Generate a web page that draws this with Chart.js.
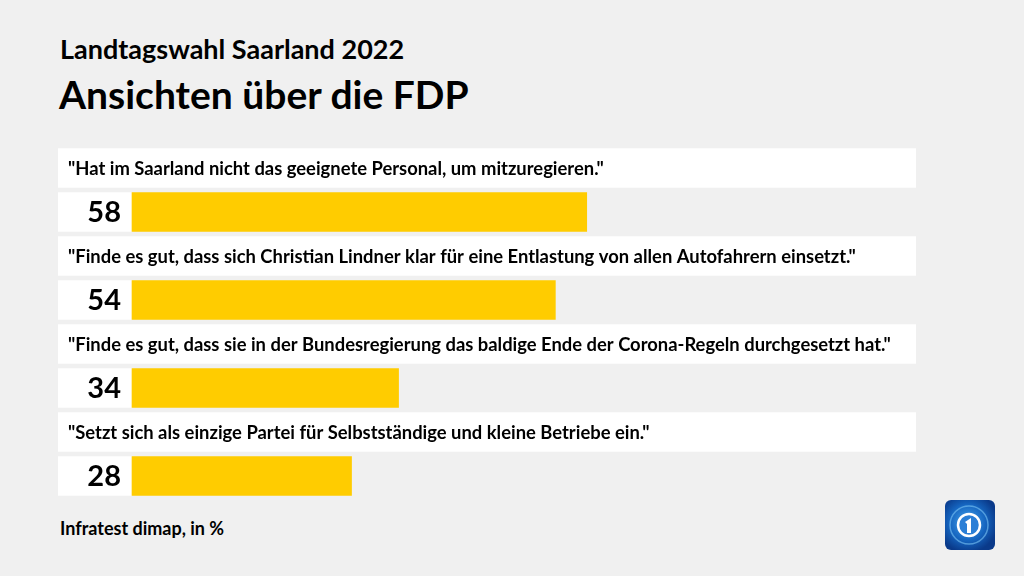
<!DOCTYPE html>
<html>
<head>
<meta charset="utf-8">
<script src="https://cdn.jsdelivr.net/npm/chart.js@4"></script>
<style>
  body { margin: 0; width: 1024px; height: 576px; background: #f0f0f0; font-family: Lato, "Noto Sans", sans-serif; color: #000; overflow: hidden; position: relative; }
  .sup { position: absolute; left: 60px; top: 32px; font-size: 27px; font-weight: 700; }
  .title { position: absolute; left: 59px; top: 71px; font-size: 39px; font-weight: 700; }
  .src { position: absolute; left: 60px; top: 517px; font-size: 18px; font-weight: 700; }
  #wrap { position: absolute; left: 58px; top: 146px; width: 858px; height: 352px; }
  #logo { position: absolute; left: 945px; top: 500px; width: 50px; height: 50px; }
</style>
</head>
<body>
<div class="sup">Landtagswahl Saarland 2022</div>
<div class="title">Ansichten über die FDP</div>
<div id="wrap"><canvas id="chart"></canvas></div>
<div class="src">Infratest dimap, in %</div>
<svg id="logo" viewBox="0 0 50 50">
  <defs>
    <radialGradient id="g" cx="0.45" cy="0.45" r="0.6">
      <stop offset="0" stop-color="#4aa8ee"/>
      <stop offset="0.6" stop-color="#1565c0"/>
      <stop offset="1" stop-color="#0a3a8a"/>
    </radialGradient>
  </defs>
  <rect x="0" y="0" width="50" height="50" rx="6" fill="url(#g)"/>
  <circle cx="24" cy="25" r="19" fill="none" stroke="#7cc4f5" stroke-width="1.5" opacity="0.6"/>
  <circle cx="24" cy="25" r="11" fill="#2b7fd6" stroke="#fff" stroke-width="2.5"/>
  <path d="M20 22 L26 18 L26 33 L22 33 L22 24 Z" fill="#fff"/>
</svg>
<script>
// Data
const statements = [
  '"Hat im Saarland nicht das geeignete Personal, um mitzuregieren."',
  '"Finde es gut, dass sich Christian Lindner klar für eine Entlastung von allen Autofahrern einsetzt."',
  '"Finde es gut, dass sie in der Bundesregierung das baldige Ende der Corona-Regeln durchgesetzt hat."',
  '"Setzt sich als einzige Partei für Selbstständige und kleine Betriebe ein."'
];
const values = [58, 54, 34, 28];

const xMin = -9.44;
const xMax = 100;

// each statement gets a text row and a value row
const rows = [];
const boxData = [];
const barData = [];
statements.forEach((s, i) => {
  rows.push('t' + i);
  boxData.push([xMin, xMax]);
  barData.push(null);
  rows.push('v' + i);
  boxData.push([xMin, 0]);
  barData.push([0, values[i]]);
});

const textPlugin = {
  id: 'rowText',
  afterDatasetsDraw(chart) {
    const ctx = chart.ctx;
    const xs = chart.scales.x;
    const ys = chart.scales.y;
    ctx.save();
    ctx.fillStyle = '#000';
    ctx.textBaseline = 'middle';
    statements.forEach((s, i) => {
      ctx.font = '700 18.4px Lato, "Noto Sans", sans-serif';
      ctx.textAlign = 'left';
      ctx.fillText(s, xs.getPixelForValue(xMin) + 10, ys.getPixelForValue(2 * i) + 1);
      ctx.font = '700 29px Lato, "Noto Sans", sans-serif';
      ctx.textAlign = 'right';
      ctx.fillText(String(values[i]), xs.getPixelForValue(0) - 11, ys.getPixelForValue(2 * i + 1) + 1);
    });
    ctx.restore();
  }
};

new Chart(document.getElementById('chart'), {
  type: 'bar',
  data: {
    labels: rows,
    datasets: [
      { data: boxData, backgroundColor: '#ffffff', grouped: false, barThickness: 39, order: 2 },
      { data: barData, backgroundColor: '#ffcc00', grouped: false, barThickness: 39, order: 1 }
    ]
  },
  options: {
    indexAxis: 'y',
    responsive: true,
    maintainAspectRatio: false,
    animation: false,
    layout: { padding: 0 },
    plugins: { legend: { display: false }, tooltip: { enabled: false } },
    scales: {
      x: { display: false, min: xMin, max: xMax },
      y: { display: false }
    }
  },
  plugins: [textPlugin]
});
</script>
</body>
</html>
